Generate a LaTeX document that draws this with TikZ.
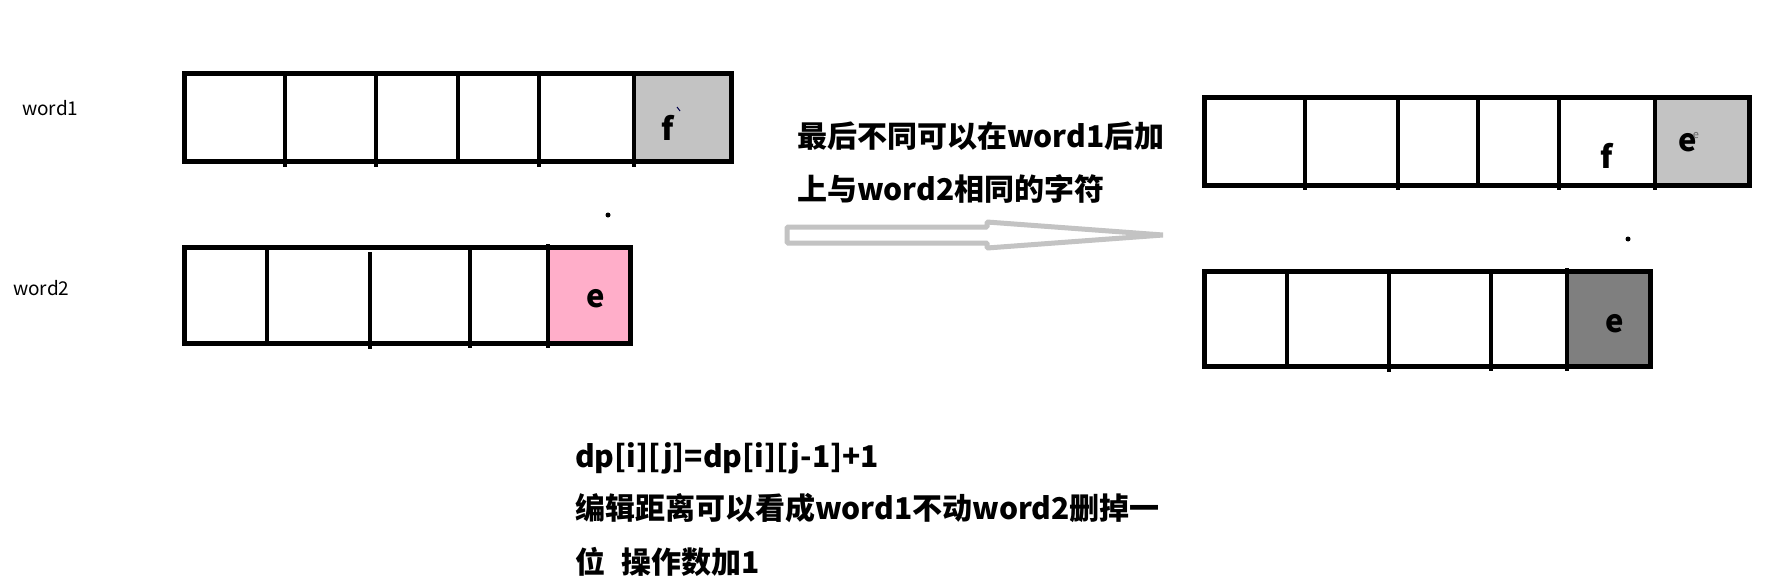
\documentclass[tikz,border=0pt]{standalone}
\usepackage{fontspec}
\newfontfamily\cjk{Noto Sans CJK SC}
\definecolor{cellgrey}{HTML}{C3C3C3}
\definecolor{cellpink}{HTML}{FFAEC9}
\definecolor{celldark}{HTML}{7F7F7F}
\begin{document}
\begin{tikzpicture}[x=1pt,y=-1pt,
  frame/.style={line width=5pt, draw=black},
  divider/.style={line width=4pt, black},
  lbl/.style={font=\cjk\fontsize{19}{22}\selectfont, anchor=west, inner sep=0pt},
  bigtxt/.style={font=\cjk\bfseries\fontsize{30}{36}\selectfont, anchor=west, inner sep=0pt},
  letter/.style={font=\cjk\bfseries\fontsize{31}{34}\selectfont, inner sep=0pt},
  hollowarrow/.style={draw=cellgrey, line width=5pt, line join=bevel}
]
\useasboundingbox[fill=white] (0,0) rectangle (1772,579);

% labels
\node[lbl] (w1) at (22,108) {word1};
\node[lbl] (w2) at (13,288) {word2};

% left word1
\fill[cellgrey] (634,73.5) rectangle (731.5,161.5);
\draw[frame] (184.5,73.5) rectangle (731.5,161.5);
\foreach \x in {285,376,539,634} \draw[divider] (\x,73.5) -- (\x,167);
\draw[divider] (458,73.5) -- (458,161.5);
\node[letter] (lf) at (668,128) {f};
\draw[line width=1pt, black!70!blue] (677,107) -- (680,111);

% left word2
\fill[cellpink] (548,247.5) rectangle (630.5,343.5);
\draw[frame] (184.5,247.5) rectangle (630.5,343.5);
\draw[divider] (267,247.5) -- (267,343.5);
\draw[divider] (370,252) -- (370,349);
\draw[divider] (470,247.5) -- (470,348);
\draw[divider] (548,244) -- (548,348);
\node[letter] (le) at (596,299) {e};

\fill (608,215) circle (2.5);

% arrow
\draw[hollowarrow] (787,227) -- (987,227) -- (987,222) -- (1163,235) -- (987,248) -- (987,243) -- (787,243) -- cycle;

% right texts
\node[bigtxt] (t1) at (797,136) {最后不同可以在word1后加};
\node[bigtxt] (t2) at (797,189) {上与word2相同的字符};

% right word1
\fill[cellgrey] (1655,97.5) rectangle (1749.5,185.5);
\draw[frame] (1204.5,97.5) rectangle (1749.5,185.5);
\foreach \x in {1305,1398,1559,1655} \draw[divider] (\x,97.5) -- (\x,190);
\draw[divider] (1478,97.5) -- (1478,185.5);
\node[letter] (rf) at (1607,156) {f};
\node[letter] (re1) at (1688,143) {e};
\node[font=\cjk\fontsize{11}{12}\selectfont, text=black!60, inner sep=0pt] (re2) at (1696,136) {e};

\fill (1628,239) circle (2.5);

% right word2
\fill[celldark] (1567,271.5) rectangle (1650.5,366.5);
\draw[frame] (1204.5,271.5) rectangle (1650.5,366.5);
\draw[divider] (1287,271.5) -- (1287,366.5);
\draw[divider] (1389,271.5) -- (1389,372);
\draw[divider] (1491,271.5) -- (1491,371);
\draw[divider] (1567,268) -- (1567,371);
\node[letter] (re) at (1615,324) {e};

% bottom texts
\node[bigtxt] (b1) at (575,458) {dp[i][j]=dp[i][j-1]+1};
\node[bigtxt] (b2) at (575,508) {编辑距离可以看成word1不动word2删掉一};
\node[bigtxt] (b3) at (575,562) {位\hspace{16pt}操作数加1};
\end{tikzpicture}
\end{document}
